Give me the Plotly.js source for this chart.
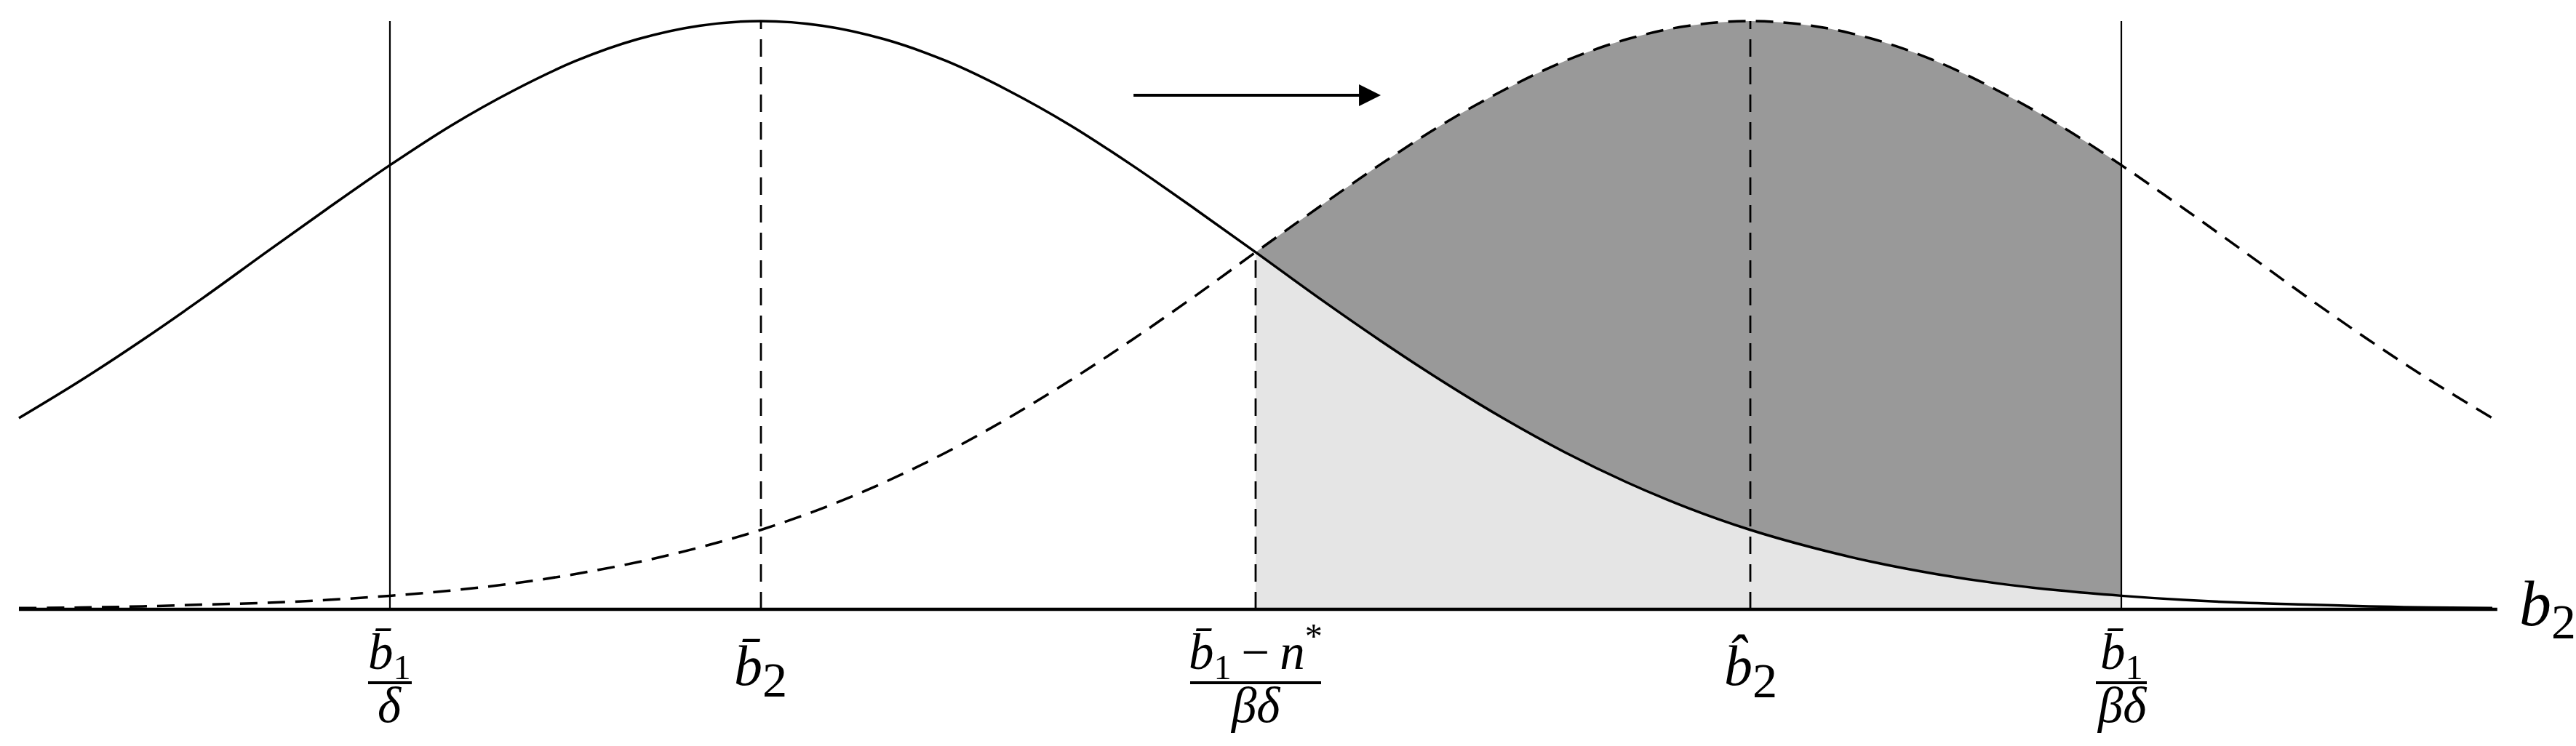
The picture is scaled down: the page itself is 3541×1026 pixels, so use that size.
<!DOCTYPE html>
<html>
<head>
<meta charset="utf-8">
<script src="https://cdn.plot.ly/plotly-3.0.1.min.js"></script>
<style>html,body{margin:0;padding:0;background:#fff;}#chart{width:3541px;height:1026px;}</style>
</head>
<body>
<div id="chart"></div>
<script>
// ---- data (b2 in units of the spread, density relative to peak) ----
const b2Grid = [-1.5,-1.375,-1.25,-1.125,-1,-0.875,-0.75,-0.625,-0.5,-0.375,-0.25,-0.125,0,0.125,0.25,0.375,0.5,0.625,0.75,0.875,1,
                1.125,1.25,1.375,1.5,1.625,1.75,1.875,2,2.125,2.25,2.375,2.5,2.625,2.75,2.875,3,3.125,3.25,3.375,3.5];
const densityBefore = [0.325,0.389,0.458,0.531,0.607,0.682,0.755,0.823,0.882,0.932,0.969,0.992,1.0,0.992,0.969,0.932,0.882,0.823,0.755,0.682,0.607,
                       0.531,0.458,0.389,0.325,0.267,0.216,0.172,0.135,0.105,0.080,0.060,0.044,0.032,0.023,0.016,0.011,0.008,0.005,0.003,0.002];
const densityAfter  = [0.002,0.003,0.005,0.008,0.011,0.016,0.023,0.032,0.044,0.060,0.080,0.105,0.135,0.172,0.216,0.267,0.325,0.389,0.458,0.531,0.607,
                       0.682,0.755,0.823,0.882,0.932,0.969,0.992,1.0,0.992,0.969,0.932,0.882,0.823,0.755,0.682,0.607,0.531,0.458,0.389,0.325];

const tickX   = [-0.75, 0, 1, 2, 2.75];
const tickTop = [1.0, 1.0, 0.607, 1.0, 1.0];
const tickNum = ['<i>b\u0304</i><sub>1</sub>', '<i>b\u0304</i><sub><span style="font-size:125%">2</span></sub>', '<i>b\u0304</i><sub>1</sub>\u2009\u2212\u2009<i>n</i><sup>*</sup>', '<i>b\u0302</i><sub><span style="font-size:125%">2</span></sub>', '<i>b\u0304</i><sub>1</sub>'];
const tickDen = ['<i>\u03b4</i>', '', '<i>\u03b2\u03b4</i>', '', '<i>\u03b2\u03b4</i>'];

const shadeFrom = 1;     // b2 where the shaded areas start
const shadeTo   = 2.75;  // b2 where the shaded areas end
const axisX = [-1.5, 3.51];
const axisY = [0, 0];
const axisLabel = '<i>b</i><sub><span style="font-size:110%">2</span></sub>';
const arrowX = [0.751, 1.253];
const arrowY = [0.874, 0.874];

// ---- styles ----
const tickStyle = ['solid', 'dash', 'dash', 'dash', 'solid'];
const fracHalfWidth = [30, 0, 90, 0, 35];
const DASH = '24px,14px';
const FONT = '"Liberation Serif", "Times New Roman", serif';

const i0 = b2Grid.indexOf(shadeFrom), i1 = b2Grid.indexOf(shadeTo) + 1;
const shadeX = b2Grid.slice(i0, i1);

const traces = [];
traces.push({x: shadeX, y: densityBefore.slice(i0, i1), mode: 'lines', line: {width: 0, shape: 'spline'},
  fill: 'tozeroy', fillcolor: '#e5e5e5', hoverinfo: 'skip'});
traces.push({x: shadeX, y: densityAfter.slice(i0, i1), mode: 'lines', line: {width: 0, shape: 'spline'},
  fill: 'tonexty', fillcolor: '#999999', hoverinfo: 'skip'});
traces.push({x: b2Grid, y: densityAfter, mode: 'lines', line: {color: '#000', width: 3.5, dash: DASH, shape: 'spline'}});
traces.push({x: b2Grid, y: densityBefore, mode: 'lines', line: {color: '#000', width: 3.5, shape: 'spline'}});
tickX.forEach((xv, k) => {
  traces.push({x: [xv, xv], y: [0, tickTop[k]], mode: 'lines',
    line: {color: '#000', width: tickStyle[k] === 'solid' ? 2.2 : 2.8, dash: tickStyle[k] === 'solid' ? 'solid' : DASH}});
});
traces.push({x: axisX, y: axisY, mode: 'lines', line: {color: '#000', width: 4.5}});

const annotations = [];
const shapes = [];
tickX.forEach((xv, k) => {
  if (tickDen[k]) {
    annotations.push({x: xv, y: 0, xref: 'x', yref: 'y', text: tickNum[k], showarrow: false,
      xanchor: 'center', yanchor: 'bottom', yshift: -108, font: {family: FONT, size: 69, color: '#000'}});
    annotations.push({x: xv, y: 0, xref: 'x', yref: 'y', text: tickDen[k], showarrow: false,
      xanchor: 'center', yanchor: 'top', yshift: -92, font: {family: FONT, size: 69, color: '#000'}});
    shapes.push({type: 'line', xref: 'x', yref: 'y', xsizemode: 'pixel', ysizemode: 'pixel',
      xanchor: xv, yanchor: 0, x0: -fracHalfWidth[k], x1: fracHalfWidth[k], y0: -101, y1: -101,
      line: {color: '#000', width: 4}});
  } else {
    annotations.push({x: xv, y: 0, xref: 'x', yref: 'y', text: tickNum[k], showarrow: false,
      xanchor: 'center', yanchor: 'top', yshift: -32, font: {family: FONT, size: 78, color: '#000'}});
  }
});
annotations.push({x: axisX[1], y: 0, xref: 'x', yref: 'y', text: axisLabel, showarrow: false,
  xanchor: 'left', yanchor: 'top', xshift: 28, yshift: 58, font: {family: FONT, size: 88, color: '#000'}});
annotations.push({x: arrowX[1], y: arrowY[1], ax: arrowX[0], ay: arrowY[0], xref: 'x', yref: 'y', axref: 'x', ayref: 'y',
  text: '', showarrow: true, arrowhead: 2, arrowsize: 1.5, arrowwidth: 4, arrowcolor: '#000', standoff: 0});

const layout = {
  width: 3541, height: 1026,
  margin: {l: 0, r: 0, t: 0, b: 0},
  paper_bgcolor: '#fff', plot_bgcolor: '#fff',
  showlegend: false, hovermode: false,
  xaxis: {range: [-1.5382, 3.6691], visible: false, fixedrange: true},
  yaxis: {range: [-0.2324, 1.0358], visible: false, fixedrange: true},
  annotations: annotations,
  shapes: shapes
};
Plotly.newPlot('chart', traces, layout, {staticPlot: true, displayModeBar: false});
</script>
</body>
</html>
